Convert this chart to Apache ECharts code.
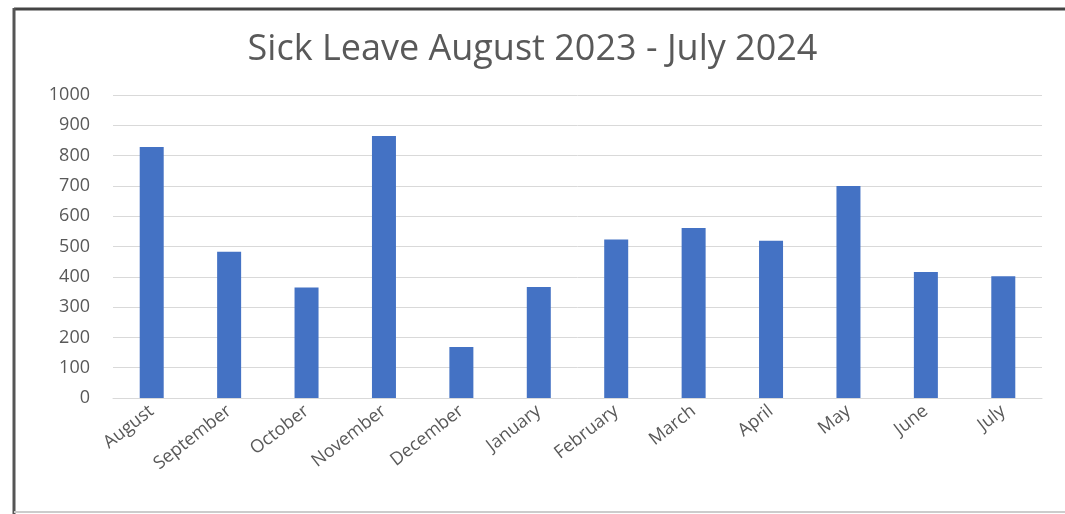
<!DOCTYPE html>
<html>
<head>
<meta charset="utf-8">
<script src="https://cdn.jsdelivr.net/npm/echarts@6/dist/echarts.min.js"></script>
<style>
  html, body { margin: 0; padding: 0; background: #fff; }
  #chart { width: 1065px; height: 514px; }
</style>
</head>
<body>
<div id="chart"></div>
<script>
var months = ['August', 'September', 'October', 'November', 'December', 'January',
	'February', 'March', 'April', 'May', 'June', 'July'];
var sickLeave = [828, 483, 365, 865, 168, 366, 523, 561, 519, 700, 416, 402];
var yTicks = [0, 1000, 100]; // min, max, step

var chart = echarts.init(document.getElementById('chart'));
var option = {
	animation: false,
	title: {
		text: 'Sick Leave August 2023 - July 2024',
		left: 'center',
		top: 27,
		textStyle: {
			fontFamily: 'Open Sans',
			fontWeight: 'normal',
			fontSize: 36,
			color: '#595959'
		}
	},
	graphic: [
		{ type: 'line', shape: { x1: 14, y1: 9, x2: 1065, y2: 9 }, style: { stroke: '#444', lineWidth: 3 } },
		{ type: 'line', shape: { x1: 14, y1: 8, x2: 14, y2: 514 }, style: { stroke: '#555', lineWidth: 3 } },
		{ type: 'line', shape: { x1: 14, y1: 512, x2: 1065, y2: 512 }, style: { stroke: '#ccc', lineWidth: 2 } }
	],
	grid: {
		left: 113,
		right: 23,
		top: 95,
		bottom: 116
	},
	xAxis: {
		type: 'category',
		data: months,
		axisTick: { show: false },
		axisLine: { lineStyle: { color: '#d9d9d9', width: 1 } },
		axisLabel: {
			rotate: 38,
			interval: 0,
			margin: 11,
			fontFamily: 'Open Sans',
			fontSize: 18,
			color: '#595959'
		}
	},
	yAxis: {
		type: 'value',
		min: yTicks[0],
		max: yTicks[1],
		interval: yTicks[2],
		axisLine: { show: false },
		axisTick: { show: false },
		splitLine: { lineStyle: { color: '#d9d9d9', width: 1 } },
		axisLabel: {
			margin: 23,
			fontFamily: 'Open Sans',
			fontSize: 18,
			color: '#595959',
			formatter: function(v) { return String(v); }
		}
	},
	series: [{
		type: 'bar',
		data: sickLeave,
		barWidth: 24,
		itemStyle: { color: '#4472c4' }
	}]
};
chart.setOption(option);
</script>
</body>
</html>
